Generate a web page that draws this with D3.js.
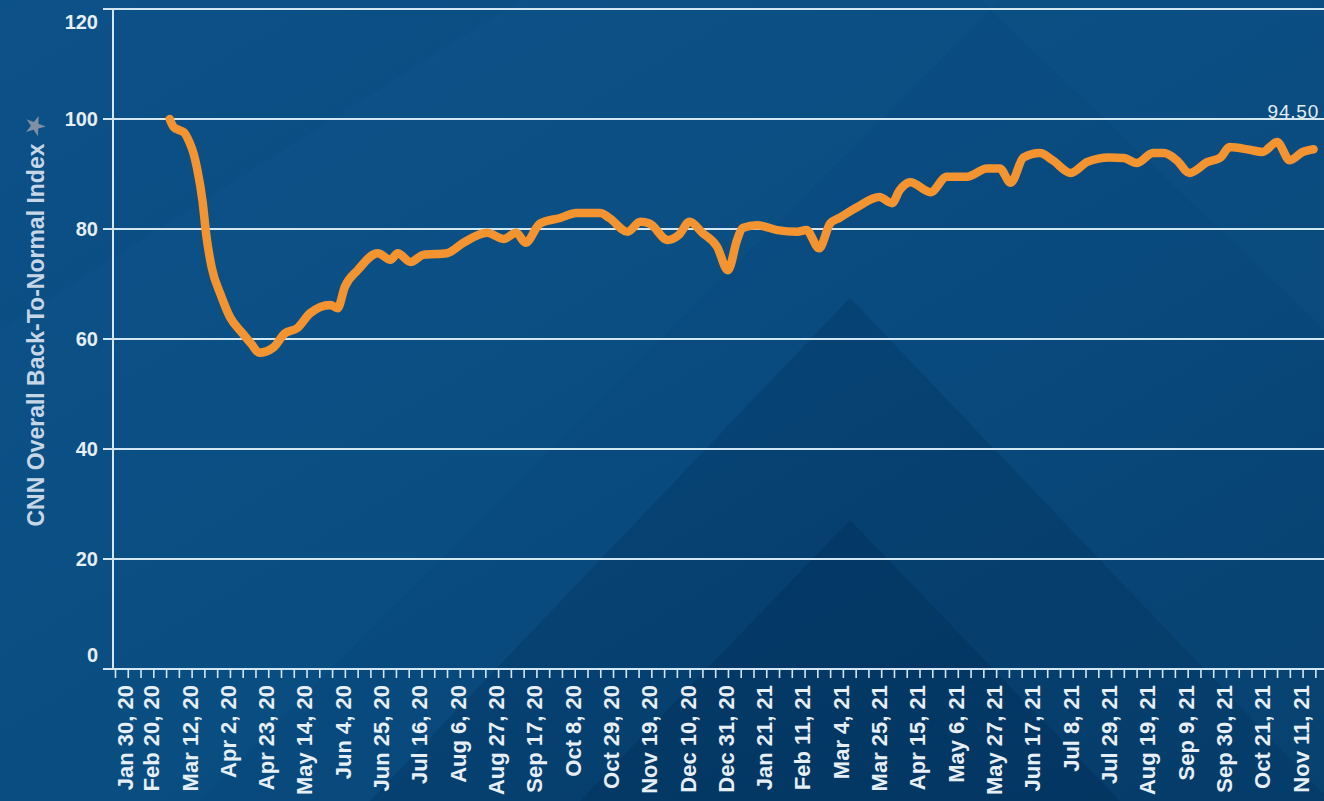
<!DOCTYPE html>
<html>
<head>
<meta charset="utf-8">
<script src="https://cdn.jsdelivr.net/npm/d3@7"></script>
<style>
  html, body { margin: 0; padding: 0; overflow: hidden; background: #0a4a7e; }
  svg { display: block; }
  text { font-family: "Liberation Sans", Arial, sans-serif; }
</style>
</head>
<body>
<svg id="chart" width="1324" height="801"></svg>
<script>
// ---------------- data ----------------
const dates = [
  "2020-02-29","2020-03-02","2020-03-05","2020-03-08","2020-03-11","2020-03-13","2020-03-15",
  "2020-03-18","2020-03-20","2020-03-23","2020-03-28","2020-04-02","2020-04-09","2020-04-14",
  "2020-04-18","2020-04-26","2020-05-02","2020-05-09","2020-05-16","2020-05-27","2020-05-31",
  "2020-06-04","2020-06-11","2020-06-22","2020-06-29","2020-07-03","2020-07-10","2020-07-17",
  "2020-07-30","2020-08-08","2020-08-21","2020-08-30","2020-09-06","2020-09-11","2020-09-19",
  "2020-09-30","2020-10-09","2020-10-22","2020-10-27","2020-11-06","2020-11-13","2020-11-18",
  "2020-11-28","2020-12-04","2020-12-10","2020-12-17","2020-12-25","2020-12-31","2021-01-05",
  "2021-01-08","2021-01-16","2021-01-27","2021-02-07","2021-02-12","2021-02-19","2021-02-25",
  "2021-03-02","2021-03-12","2021-03-24","2021-03-31","2021-04-04","2021-04-10","2021-04-21",
  "2021-04-30","2021-05-11","2021-05-22","2021-05-29","2021-06-04","2021-06-11","2021-06-20",
  "2021-06-27","2021-07-07","2021-07-16","2021-07-28","2021-08-05","2021-08-12","2021-08-21",
  "2021-08-27","2021-09-03","2021-09-10","2021-09-20","2021-09-27","2021-10-02","2021-10-13",
  "2021-10-20","2021-10-28","2021-11-04","2021-11-11","2021-11-17"
];
const values = [
  100.0, 98.6, 98.0, 97.5, 95.6, 93.8, 91.0,
  85.0, 79.0, 73.0, 68.0, 64.0, 61.0, 59.0,
  57.5, 58.5, 61.0, 62.0, 64.7, 66.2, 65.6,
  69.5, 72.5, 75.6, 74.4, 75.6, 74.0, 75.3,
  75.6, 77.5, 79.3, 78.2, 79.3, 77.5, 81.0,
  82.0, 82.9, 82.9, 82.0, 79.5, 81.3, 81.0,
  78.0, 78.9, 81.3, 79.3, 76.8, 72.5, 78.0,
  80.2, 80.7, 79.8, 79.5, 79.8, 76.5, 81.0,
  82.0, 84.0, 85.8, 84.7, 87.0, 88.5, 86.7,
  89.5, 89.5, 91.0, 91.0, 88.4, 93.0, 93.8,
  92.5, 90.2, 92.2, 93.0, 92.9, 92.0, 93.8,
  93.8, 92.5, 90.2, 92.2, 93.0, 94.9, 94.4,
  94.0, 95.8, 92.5, 94.0, 94.5
];
const yTicks = [0, 20, 40, 60, 80, 100, 120];
const xLabels = [
  "Jan 30, 20","Feb 20, 20","Mar 12, 20","Apr 2, 20","Apr 23, 20","May 14, 20","Jun 4, 20",
  "Jun 25, 20","Jul 16, 20","Aug 6, 20","Aug 27, 20","Sep 17, 20","Oct 8, 20","Oct 29, 20",
  "Nov 19, 20","Dec 10, 20","Dec 31, 20","Jan 21, 21","Feb 11, 21","Mar 4, 21","Mar 25, 21",
  "Apr 15, 21","May 6, 21","May 27, 21","Jun 17, 21","Jul 8, 21","Jul 29, 21","Aug 19, 21",
  "Sep 9, 21","Sep 30, 21","Oct 21, 21","Nov 11, 21"
];
const yTitle = "CNN Overall Back-To-Normal Index";
const lastLabel = "94.50";

// ---------------- setup ----------------
const W = 1324, H = 801;
const svg = d3.select("#chart");
const parseDate = d3.timeParse("%Y-%m-%d");
const parseLabel = d3.timeParse("%b %d, %y");
const series = dates.map((d, i) => ({ date: parseDate(d), value: values[i] }));
const labelDates = xLabels.map(s => parseLabel(s));

const plotLeft = 113, plotTop = 9, plotBottom = 669;

const x = d3.scaleTime()
  .domain([labelDates[0], labelDates[labelDates.length - 1]])
  .range([115, 1302.6]);
const y = d3.scaleLinear().domain([0, 120]).range([plotBottom, plotTop]);

// ---------------- background ----------------
const defs = svg.append("defs");
const bg = defs.append("linearGradient").attr("id", "bg")
  .attr("x1", "0").attr("y1", "0").attr("x2", "1").attr("y2", "1");
bg.append("stop").attr("offset", "0%").attr("stop-color", "#0c5188");
bg.append("stop").attr("offset", "55%").attr("stop-color", "#094a7e");
bg.append("stop").attr("offset", "100%").attr("stop-color", "#07416f");
svg.append("rect").attr("width", W).attr("height", H).attr("fill", "url(#bg)");

// subtle decorative shapes
svg.append("polygon")
  .attr("points", "0,330 520,0 1000,0 200,801 0,801")
  .attr("fill", "#1a6aa0").attr("opacity", 0.09);
svg.append("polygon")
  .attr("points", "980,0 1324,0 1324,330")
  .attr("fill", "#2173aa").attr("opacity", 0.08);
svg.append("polygon")
  .attr("points", "850,298 1330,801 370,801")
  .attr("fill", "#03335f").attr("opacity", 0.35);
svg.append("polygon")
  .attr("points", "850,520 1120,801 580,801")
  .attr("fill", "#022b53").attr("opacity", 0.35);

// ---------------- grid & axes ----------------
const gridColor = "#d3e7f3";
const grid = svg.append("g");
grid.selectAll("line").data(yTicks).join("line")
  .attr("x1", plotLeft - 10).attr("x2", W)
  .attr("y1", d => y(d)).attr("y2", d => y(d))
  .attr("stroke", gridColor).attr("stroke-width", 2);

// y axis line
svg.append("line")
  .attr("x1", plotLeft).attr("x2", plotLeft)
  .attr("y1", y(120)).attr("y2", plotBottom)
  .attr("stroke", gridColor).attr("stroke-width", 2);

// y tick labels
svg.append("g").selectAll("text").data(yTicks).join("text")
  .attr("x", 98)
  .attr("y", d => d === 120 ? y(d) + 13 : (d === 0 ? y(d) - 14 : y(d)))
  .attr("dy", "0.36em")
  .attr("text-anchor", "end")
  .attr("fill", "#e6eef6")
  .attr("font-size", 20)
  .attr("font-weight", "bold")
  .text(d => d);

// x axis with weekly ticks
const weekTicks = d3.timeThursday.range(labelDates[0], d3.timeDay.offset(labelDates[labelDates.length - 1], 30));
const xAxis = d3.axisBottom(x)
  .tickValues(weekTicks)
  .tickSize(9)
  .tickFormat("");
const gx = svg.append("g").attr("transform", `translate(0,${plotBottom})`).call(xAxis);
gx.select(".domain").remove();
gx.selectAll(".tick line").attr("stroke", gridColor).attr("stroke-width", 1.6);
svg.append("line")
  .attr("x1", plotLeft - 10).attr("x2", W)
  .attr("y1", plotBottom).attr("y2", plotBottom)
  .attr("stroke", gridColor).attr("stroke-width", 2);

// x labels (rotated)
svg.append("g").selectAll("text").data(xLabels).join("text")
  .attr("transform", (d, i) => {
    const px = Math.max(x(labelDates[i]) - 2, 125);
    return `translate(${px},685) rotate(-90)`;
  })
  .attr("dy", "0.36em")
  .attr("text-anchor", "end")
  .attr("fill", "#e6eef6")
  .attr("font-size", 22)
  .attr("font-weight", "bold")
  .text(d => d);

// y axis title
svg.append("text")
  .attr("transform", "translate(36,335) rotate(-90)")
  .attr("dy", "0.36em")
  .attr("text-anchor", "middle")
  .attr("fill", "#c7d6e6")
  .attr("font-size", 23)
  .attr("font-weight", "bold")
  .text(yTitle);

// small pin/star icon
svg.append("path")
  .attr("d", d3.symbol(d3.symbolStar, 130)())
  .attr("transform", "translate(35,126) rotate(20)")
  .attr("fill", "#7f8fa6");

// ---------------- line ----------------
const line = d3.line()
  .x(d => x(d.date))
  .y(d => y(d.value))
  .curve(d3.curveMonotoneX);

svg.append("path")
  .datum(series)
  .attr("d", line)
  .attr("fill", "none")
  .attr("stroke", "#f39430")
  .attr("stroke-width", 8.5)
  .attr("stroke-linejoin", "round")
  .attr("stroke-linecap", "round");

// last value label
const last = series[series.length - 1];
svg.append("text")
  .attr("x", x(last.date) - 46)
  .attr("y", y(last.value) - 31)
  .attr("fill", "#e4ecf4")
  .attr("font-size", 19)
  .attr("letter-spacing", 0.8)
  .text(lastLabel);
</script>
</body>
</html>
